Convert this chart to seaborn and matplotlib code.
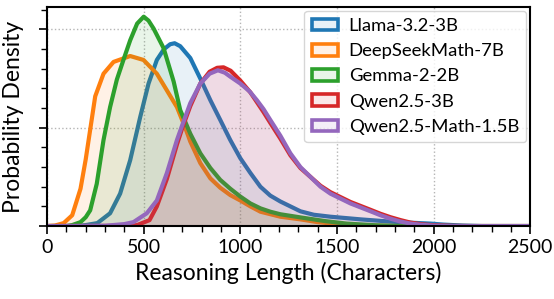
import numpy as np
import pandas as pd
import seaborn as sns
import matplotlib.pyplot as plt
from matplotlib.patches import Patch
from matplotlib.ticker import MultipleLocator

# density curves (y in units of 1e-3 per character)
models = ["Llama-3.2-3B", "DeepSeekMath-7B", "Gemma-2-2B", "Qwen2.5-3B", "Qwen2.5-Math-1.5B"]

llama_x = [0, 150, 200, 260, 326, 378, 430, 482, 525, 568, 605, 637, 660, 689, 741, 793, 845,
           896, 948, 1000, 1052, 1104, 1155, 1207, 1259, 1311, 1380, 1466, 1622, 1777, 1881,
           1984, 2050, 2150, 2250, 2500]
llama_y = [0, 0, 0.01, 0.03, 0.13, 0.33, 0.67, 1.11, 1.45, 1.69, 1.80, 1.85, 1.86, 1.83, 1.71,
           1.50, 1.28, 1.08, 0.875, 0.69, 0.54, 0.40, 0.31, 0.25, 0.20, 0.15, 0.115, 0.095,
           0.068, 0.045, 0.034, 0.025, 0.015, 0.005, 0, 0]

deepseek_x = [0, 40, 86, 130, 173, 200, 223, 249, 292, 344, 430, 499, 568, 620, 672, 715, 741,
              793, 845, 896, 948, 1000, 1052, 1104, 1207, 1311, 1400, 1500, 1650, 1800, 2500]
deepseek_y = [0, 0.005, 0.03, 0.11, 0.38, 0.68, 0.98, 1.32, 1.55, 1.67, 1.73, 1.69, 1.55, 1.38,
              1.21, 1.00, 0.86, 0.64, 0.485, 0.39, 0.315, 0.26, 0.20, 0.146, 0.095, 0.068, 0.04,
              0.02, 0.005, 0, 0]

gemma_x = [0, 100, 130, 173, 200, 223, 257, 292, 326, 361, 395, 430, 466, 500, 525, 551, 603,
           655, 689, 741, 793, 845, 896, 948, 1000, 1052, 1104, 1155, 1207, 1311, 1440, 1550,
           1700, 1850, 2500]
gemma_y = [0, 0, 0.01, 0.04, 0.09, 0.16, 0.43, 0.875, 1.21, 1.49, 1.69, 1.89, 2.06, 2.13, 2.09,
           2.01, 1.81, 1.47, 1.18, 0.94, 0.74, 0.59, 0.47, 0.38, 0.30, 0.23, 0.18, 0.146, 0.12,
           0.088, 0.05, 0.025, 0.008, 0, 0]

qwen_x = [0, 400, 466, 530, 568, 620, 672, 700, 741, 793, 841, 880, 913, 950, 1000, 1052, 1086,
          1120, 1155, 1207, 1259, 1311, 1363, 1415, 1466, 1518, 1570, 1622, 1674, 1725, 1777,
          1830, 1881, 1940, 2000, 2100, 2200, 2500]
qwen_y = [0, 0.002, 0.01, 0.06, 0.20, 0.48, 0.83, 1.00, 1.22, 1.45, 1.57, 1.61, 1.615, 1.58,
          1.48, 1.36, 1.26, 1.16, 1.05, 0.89, 0.72, 0.59, 0.50, 0.41, 0.345, 0.295, 0.245,
          0.205, 0.165, 0.125, 0.09, 0.06, 0.035, 0.018, 0.008, 0.002, 0, 0]

qmath_x = [0, 300, 400, 447, 516, 568, 620, 672, 700, 741, 793, 841, 884, 920, 948, 1000, 1048,
           1086, 1120, 1155, 1207, 1259, 1311, 1363, 1415, 1466, 1518, 1570, 1622, 1674, 1725,
           1777, 1830, 1881, 1940, 2000, 2100, 2500]
qmath_y = [0, 0.003, 0.02, 0.04, 0.13, 0.26, 0.54, 0.875, 1.03, 1.25, 1.45, 1.55, 1.585, 1.56,
           1.52, 1.45, 1.37, 1.28, 1.19, 1.08, 0.92, 0.74, 0.60, 0.50, 0.40, 0.33, 0.28, 0.23,
           0.19, 0.15, 0.11, 0.075, 0.045, 0.025, 0.012, 0.004, 0, 0]

curves = [(llama_x, llama_y), (deepseek_x, deepseek_y), (gemma_x, gemma_y),
          (qwen_x, qwen_y), (qmath_x, qmath_y)]

sns.set_theme(style="ticks")
plt.rcParams["font.family"] = ["Lato", "DejaVu Sans"]
plt.rcParams.update({"text.color": "black", "axes.labelcolor": "black",
                     "xtick.color": "black", "ytick.color": "black"})

colors = sns.color_palette("tab10")[:5]

fig, ax = plt.subplots(figsize=(5.54, 2.99), dpi=100)
fig.subplots_adjust(left=0.085, right=0.957, top=0.977, bottom=0.244)

for name, (xs, ys), c in zip(models, curves, colors):
    df = pd.DataFrame({"length": xs, "density": ys})
    sns.lineplot(data=df, x="length", y="density", color=c, lw=3, ax=ax,
                 sort=False, zorder=2, solid_joinstyle="round", solid_capstyle="round")
    ax.fill_between(df["length"], df["density"], color=c, alpha=0.1, lw=0, zorder=2)

ax.set_xlim(0, 2500)
ax.set_ylim(0, 2.23)
ax.xaxis.set_major_locator(MultipleLocator(500))
ax.xaxis.set_minor_locator(MultipleLocator(100))
ax.yaxis.set_major_locator(MultipleLocator(1))
ax.yaxis.set_minor_locator(MultipleLocator(0.2))
ax.set_yticklabels([])
ax.tick_params(axis="both", which="major", length=6, width=1.2, labelsize=14, color="black")
ax.tick_params(axis="both", which="minor", length=4, width=1.0, color="black")
ax.grid(True, which="major", linestyle=":", color="#b5b5b5", linewidth=1)
ax.set_axisbelow(True)
for s in ax.spines.values():
    s.set_linewidth(1.5)
    s.set_color("black")

ax.set_xlabel("Reasoning Length (Characters)", fontsize=16.5, labelpad=4)
ax.set_ylabel("Probability Density", fontsize=16.5, labelpad=7)

handles = [Patch(facecolor=(*c, 0.1), edgecolor=c, linewidth=2.6) for c in colors]
ax.legend(handles, models, loc="upper right", fontsize=13.3, handlelength=1.4,
          handleheight=0.6, labelspacing=0.5, borderaxespad=0.2, handletextpad=0.6,
          frameon=True, fancybox=True)

fig.savefig("out.png", dpi=100)
